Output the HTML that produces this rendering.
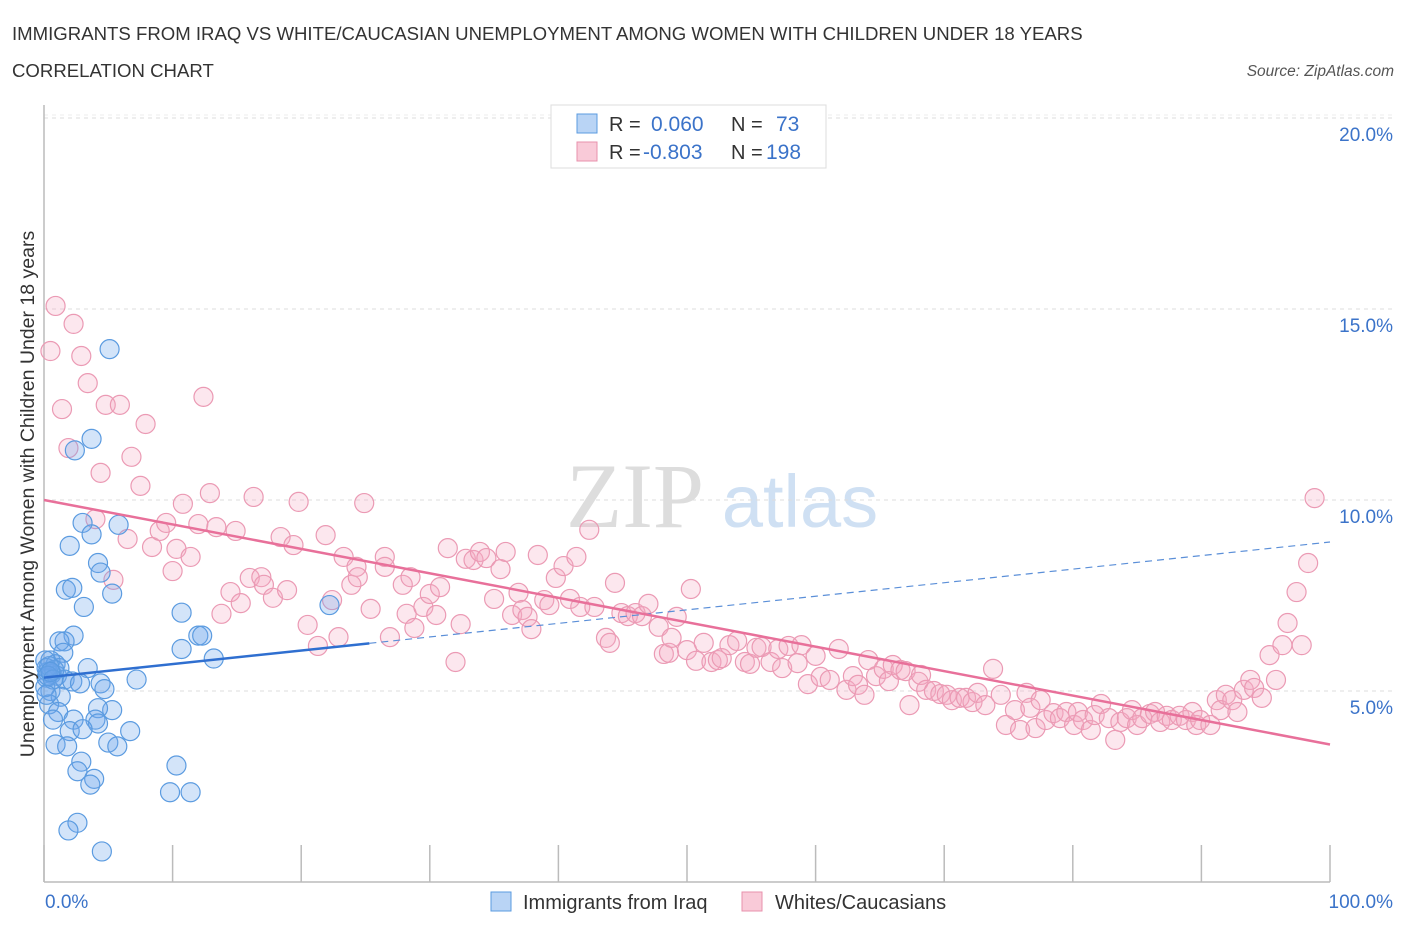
<!DOCTYPE html>
<html><head><meta charset="utf-8"><style>
body{margin:0;background:#fff;font-family:"Liberation Sans",sans-serif;}
</style></head><body>
<svg id="chart" width="1406" height="930" xmlns="http://www.w3.org/2000/svg" style="display:block">
<text x="12" y="40" font-size="18.6" fill="#333">IMMIGRANTS FROM IRAQ VS WHITE/CAUCASIAN UNEMPLOYMENT AMONG WOMEN WITH CHILDREN UNDER 18 YEARS</text>
<text x="12" y="77" font-size="18.6" fill="#333">CORRELATION CHART</text>
<text x="1394" y="76" font-size="15.5" fill="#555" font-style="italic" text-anchor="end">Source: ZipAtlas.com</text>
<g>
<text x="635" y="527" font-size="92" fill="#ddd" font-family="Liberation Serif,serif" text-anchor="middle">ZIP</text>
<text x="800" y="527" font-size="74" fill="#cfe0f3" text-anchor="middle">atlas</text>
</g>
<g id="grid"></g><g id="axes"></g><g id="pts"></g><g id="trend"></g>
<g>
<rect x="551" y="105" width="275" height="63" fill="#fff" stroke="#ddd"/>
<rect x="577" y="114" width="20" height="19" fill="#b9d4f5" stroke="#5b9be0"/>
<rect x="577" y="142" width="20" height="19" fill="#f9cad8" stroke="#e891ac"/>
<text x="609" y="131" font-size="20" fill="#333">R =</text><text x="651" y="131" font-size="21" fill="#3b73c9">0.060</text>
<text x="731" y="131" font-size="20" fill="#333">N =</text><text x="776" y="131" font-size="21" fill="#3b73c9">73</text>
<text x="609" y="159" font-size="20" fill="#333">R =</text><text x="643" y="159" font-size="21" fill="#3b73c9">-0.803</text>
<text x="731" y="159" font-size="20" fill="#333">N =</text><text x="766" y="159" font-size="21" fill="#3b73c9">198</text>
</g>
<g>
<rect x="491" y="892" width="20" height="19" fill="#b9d4f5" stroke="#5b9be0"/>
<text x="523" y="909" font-size="20" fill="#333">Immigrants from Iraq</text>
<rect x="742" y="892" width="20" height="19" fill="#f9cad8" stroke="#e891ac"/>
<text x="775" y="909" font-size="20" fill="#333">Whites/Caucasians</text>
</g>
<text transform="translate(34,494) rotate(-90)" font-size="19.5" fill="#333" text-anchor="middle">Unemployment Among Women with Children Under 18 years</text>
</svg>
<script>
const yTicks=[5,10,15,20];
const yTickLabels=["5.0%","10.0%","15.0%","20.0%"];
const xTickLabels=["0.0%","100.0%"];
const blueX=[5.1,3.7,2.4,3.0,5.8,3.7,2.0,4.2,4.4,1.7,2.2,5.3,3.1,10.7,22.2,2.3,1.6,12.0,12.3,10.7,1.2,1.5,13.2,0.5,0.9,1.2,3.4,0.3,0.6,1.0,0.2,1.6,2.2,2.8,4.4,7.2,0.5,4.7,1.3,0.4,1.1,5.3,4.2,0.7,2.3,4.0,4.2,2.0,3.0,6.7,0.9,1.8,5.0,5.7,2.9,10.3,2.6,3.9,3.6,9.8,11.4,2.6,1.9,4.5,0.1,0.2,0.1,0.8,0.4,0.3,0.7,0.2,0.5];
const blueY=[13.95,11.6,11.3,9.4,9.35,9.1,8.8,8.35,8.1,7.65,7.7,7.55,7.2,7.05,7.25,6.45,6.3,6.45,6.45,6.1,6.3,6.0,5.85,5.8,5.7,5.6,5.6,5.5,5.45,5.4,5.35,5.3,5.25,5.2,5.2,5.3,5.0,5.05,4.85,4.65,4.45,4.5,4.55,4.25,4.25,4.25,4.15,3.95,4.0,3.95,3.6,3.55,3.65,3.55,3.15,3.05,2.9,2.7,2.55,2.35,2.35,1.55,1.35,0.8,5.8,5.6,5.1,5.55,5.65,5.4,5.3,4.9,5.5];
const pinkX=[0.9,2.3,0.5,2.9,3.4,1.4,4.8,5.9,7.9,12.4,1.9,4.4,6.8,7.5,10.8,12.9,16.3,19.8,24.9,4.0,6.5,8.4,9.0,9.5,10.3,10.0,11.4,12.0,13.4,14.9,18.4,19.4,21.9,23.3,26.5,5.4,13.8,14.5,15.3,16.0,16.9,17.1,17.8,18.9,20.5,21.3,22.9,22.4,24.3,23.9,24.4,25.4,26.9,26.5,27.9,28.5,28.2,28.8,29.5,30.0,30.8,30.5,31.4,32.4,32.0,32.8,33.4,33.9,34.4,35.0,35.5,35.9,36.4,36.9,37.2,37.6,37.9,38.4,38.9,39.3,39.8,40.4,40.9,41.4,41.7,42.4,42.8,43.7,44.0,44.4,44.9,45.4,46.0,46.5,47.0,47.8,48.2,48.6,49.2,48.8,50.0,50.3,50.7,51.3,51.9,52.4,52.7,53.3,53.9,54.5,54.9,55.4,55.8,56.5,57.1,57.4,57.9,58.6,58.9,59.4,60.0,60.4,61.1,61.8,62.4,62.9,63.3,63.8,64.1,64.7,65.3,65.7,66.0,66.6,67.0,67.3,68.0,68.2,68.6,69.2,69.7,70.2,70.6,71.2,71.7,72.2,72.6,73.2,73.8,74.4,74.8,75.5,75.9,76.4,76.7,77.1,77.5,77.9,78.5,79.0,79.5,80.1,80.4,80.8,81.4,81.7,82.2,82.8,83.3,83.7,84.2,84.6,85.0,85.4,86.0,86.4,86.8,87.3,87.7,88.3,88.8,89.3,89.6,89.9,90.7,91.2,91.5,91.9,92.4,92.8,93.3,93.8,94.1,94.7,95.3,95.8,96.3,96.7,97.4,97.8,98.3,98.8];
const pinkY=[15.08,14.61,13.90,13.77,13.06,12.38,12.49,12.49,11.99,12.70,11.36,10.71,11.13,10.37,9.90,10.18,10.08,9.95,9.92,9.50,8.98,8.77,9.19,9.40,8.72,8.14,8.51,9.37,9.29,9.19,9.03,8.82,9.08,8.51,8.51,7.91,7.02,7.59,7.30,7.96,7.98,7.78,7.44,7.64,6.73,6.18,6.41,7.38,8.25,7.78,7.98,7.15,6.41,8.25,7.78,7.98,7.02,6.65,7.20,7.54,7.72,6.99,8.74,6.75,5.76,8.46,8.43,8.64,8.48,7.41,8.19,8.64,6.99,7.57,7.12,6.94,6.62,8.56,7.38,7.25,7.96,8.27,7.41,8.51,7.20,9.22,7.20,6.39,6.26,7.83,7.04,6.96,7.04,6.96,7.28,6.68,5.97,6.00,6.94,6.39,6.07,7.67,5.79,6.26,5.76,5.81,5.86,6.20,6.31,5.76,5.71,6.13,6.15,5.76,6.10,5.60,6.18,5.73,6.20,5.18,5.92,5.37,5.29,6.10,5.03,5.39,5.16,4.90,5.81,5.39,5.58,5.26,5.68,5.55,5.52,4.63,5.24,5.42,5.03,5.00,4.92,4.90,4.76,4.82,4.82,4.71,4.95,4.63,5.58,4.90,4.11,4.50,3.98,4.95,4.56,4.03,4.76,4.24,4.42,4.29,4.45,4.11,4.45,4.24,3.98,4.37,4.66,4.29,3.72,4.19,4.29,4.50,4.11,4.29,4.40,4.45,4.19,4.35,4.24,4.35,4.24,4.45,4.11,4.24,4.11,4.76,4.50,4.90,4.76,4.45,5.03,5.29,5.08,4.82,5.94,5.29,6.20,6.78,7.59,6.20,8.35,10.05];
const blueTrend=[5.35,8.9]; const blueSolidEnd=25.3;
const pinkTrend=[10.0,3.6];

const NS="http://www.w3.org/2000/svg";
const X=v=>44+v*12.86, Y=v=>882-v*38.2;
function mk(tag,attrs,parent){const e=document.createElementNS(NS,tag);for(const k in attrs)e.setAttribute(k,attrs[k]);parent.appendChild(e);return e;}
const grid=document.getElementById('grid'),axes=document.getElementById('axes'),pts=document.getElementById('pts'),tr=document.getElementById('trend');
yTicks.forEach((t,i)=>{
 const l=mk('line',{x1:44,x2:1395,y1:Y(t),y2:Y(t),stroke:'#ddd','stroke-dasharray':'4,4'},grid);
 
 
 const tx=mk('text',{x:1393,y:Y(t)+23,'font-size':19,fill:'#3b73c9','text-anchor':'end'},grid);
 tx.textContent=yTickLabels[i];
 
 
});
const topGrid=mk('line',{x1:44,x2:1395,y1:Y(20)-3,y2:Y(20)-3,stroke:'#eee','stroke-dasharray':'4,4'},grid);


const ax=mk('line',{x1:44,x2:1330,y1:882,y2:882,stroke:'#bbb','stroke-width':1.5},axes);


const ay=mk('line',{x1:44,x2:44,y1:105,y2:882,stroke:'#bbb','stroke-width':1.5},axes);


for(let i=0;i<=10;i++){const t=mk('line',{x1:X(i*10),x2:X(i*10),y1:845,y2:882,stroke:'#bbb','stroke-width':1.5},axes);
 
 }
[[0,'start',45],[100,'end',1393]].forEach((d,i)=>{const t=mk('text',{x:d[2],y:908,'font-size':19,fill:'#3b73c9','text-anchor':d[1]},axes);t.textContent=xTickLabels[i];
 
 });
pinkX.forEach((v,i)=>{const c=mk('circle',{cx:X(v),cy:Y(pinkY[i]),r:9.5,fill:'rgba(244,170,195,0.28)',stroke:'#eb9ab4','stroke-width':1.2},pts);
 
 });
blueX.forEach((v,i)=>{const c=mk('circle',{cx:X(v),cy:Y(blueY[i]),r:9.5,fill:'rgba(110,165,235,0.3)',stroke:'#5b9be0','stroke-width':1.2},pts);
 
 });
const bY=x=>blueTrend[0]+(blueTrend[1]-blueTrend[0])*x/100;
const b1=mk('line',{x1:X(0),y1:Y(bY(0)),x2:X(blueSolidEnd),y2:Y(bY(blueSolidEnd)),stroke:'#2f6fd0','stroke-width':2.5},tr);


const b2=mk('line',{x1:X(blueSolidEnd),y1:Y(bY(blueSolidEnd)),x2:X(100),y2:Y(bY(100)),stroke:'#5b8fd8','stroke-width':1.2,'stroke-dasharray':'7,5'},tr);


const p1=mk('line',{x1:X(0),y1:Y(pinkTrend[0]),x2:X(100),y2:Y(pinkTrend[1]),stroke:'#e8709a','stroke-width':2.5},tr);


</script>
</body></html>
